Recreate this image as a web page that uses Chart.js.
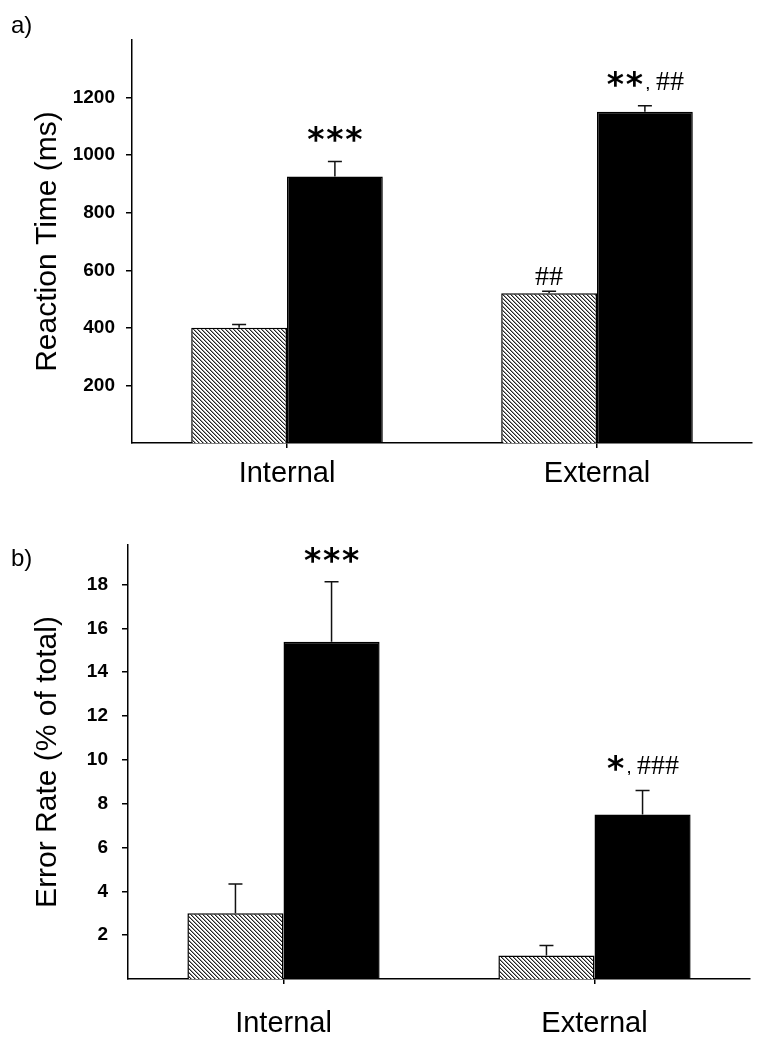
<!DOCTYPE html>
<html>
<head>
<meta charset="utf-8">
<script src="https://cdn.jsdelivr.net/npm/chart.js@4"></script>
<style>
  body { margin: 0; background: #fff; }
  #wrap { position: relative; width: 760px; height: 1050px; }
  canvas { position: absolute; left: 0; }
  .panel { position: absolute; left: 11px; font: 24px 'Liberation Sans', Arial, sans-serif; line-height: 1; color: #000; }
</style>
</head>
<body>
<div id="wrap">
  <canvas id="reactiontime" width="760" height="500" style="top:0"></canvas>
  <canvas id="errorrate" width="760" height="550" style="top:500px"></canvas>
  <div class="panel" style="top:13px">a)</div>
  <div class="panel" style="top:546px">b)</div>
</div>
<script>
// Datos
var categories = ['Internal', 'External'];

var rtHatched = [400, 520];
var rtHatchedErr = [12, 7];
var rtSolid = [926, 1151];
var rtSolidErr = [52, 21];
var rtTicks = [200, 400, 600, 800, 1000, 1200];
var rtMarksHatched = ['', '##'];
var rtMarksSolid = ['***', '**, ##'];

var erHatched = [3.0, 1.07];
var erHatchedErr = [1.33, 0.46];
var erSolid = [15.39, 7.5];
var erSolidErr = [2.73, 1.1];
var erTicks = [2, 4, 6, 8, 10, 12, 14, 16, 18];
var erMarksHatched = ['', ''];
var erMarksSolid = ['***', '*, ###'];

var fontFamily = "'Liberation Sans', Arial, sans-serif";

// rayado diagonal para las barras grises
function hatchPattern() {
    var c = document.createElement('canvas');
    c.width = 4;
    c.height = 4;
    var g = c.getContext('2d');
    g.fillStyle = '#fff';
    g.fillRect(0, 0, 4, 4);
    for (var i = 0; i < 4; i++) {
        g.fillStyle = '#222';
        g.fillRect(i, i, 1, 1);
        g.fillStyle = '#999';
        g.fillRect((i + 1) % 4, i, 1, 1);
    }
    return g.createPattern(c, 'repeat');
}

// barras de error (solo hacia arriba) y marcas de significancia
var errorBars = {
    id: 'errorBars',
    afterDatasetsDraw: function(chart) {
        var ctx = chart.ctx;
        var yScale = chart.scales.y;
        ctx.save();
        chart.data.datasets.forEach(function(ds, i) {
            var meta = chart.getDatasetMeta(i);
            meta.data.forEach(function(bar, j) {
                var top = yScale.getPixelForValue(ds.data[j] + ds.errors[j]);
                ctx.strokeStyle = '#111';
                ctx.lineWidth = 1.5;
                ctx.beginPath();
                ctx.moveTo(bar.x, bar.y);
                ctx.lineTo(bar.x, top);
                ctx.moveTo(bar.x - 7, top);
                ctx.lineTo(bar.x + 7, top);
                ctx.stroke();
                var mark = ds.marks[j];
                if (mark) {
                    var gap = mark.indexOf('*') >= 0 ? 27 : 17;
                    drawMark(ctx, mark, bar.x, top - gap);
                }
            });
        });
        ctx.restore();
    }
};

function drawMark(ctx, text, cx, cy) {
    var pitch = { '*': 19, ',': 8, '#': 14, ' ': 4 };
    var width = 0;
    for (var k = 0; k < text.length; k++) width += pitch[text[k]];
    var x = cx - width / 2;
    ctx.fillStyle = '#000';
    ctx.textAlign = 'center';
    ctx.textBaseline = 'alphabetic';
    for (var k = 0; k < text.length; k++) {
        var ch = text[k];
        var mid = x + pitch[ch] / 2;
        if (ch === '*') {
            ctx.font = "bold 33px 'DejaVu Sans'";
            var m = ctx.measureText('*');
            ctx.fillText('*', mid, cy + (m.actualBoundingBoxAscent - m.actualBoundingBoxDescent) / 2);
        } else if (ch === ',') {
            ctx.font = 'bold 13px ' + fontFamily;
            ctx.fillText(',', mid, cy + 10);
        } else if (ch === '#') {
            ctx.font = "28px 'Liberation Serif'";
            var m2 = ctx.measureText('#');
            ctx.fillText('#', mid, cy + 2 + (m2.actualBoundingBoxAscent - m2.actualBoundingBoxDescent) / 2);
        }
        x += pitch[ch];
    }
}

function makeChart(id, opts) {
    var ctx = document.getElementById(id).getContext('2d');
    var datos = {
        labels: categories,
        datasets: [
            {
                data: opts.hatched,
                errors: opts.hatchedErr,
                marks: opts.marksHatched,
                backgroundColor: hatchPattern(),
                borderColor: '#000',
                borderWidth: 1.5,
                categoryPercentage: 0.618,
                barPercentage: 1
            },
            {
                data: opts.solid,
                errors: opts.solidErr,
                marks: opts.marksSolid,
                backgroundColor: '#000',
                borderColor: '#000',
                borderWidth: 1.5,
                categoryPercentage: 0.618,
                barPercentage: 1
            }
        ]
    };

    var config = {
        type: 'bar',
        data: datos,
        options: {
            responsive: false,
            animation: false,
            layout: { padding: { top: opts.padTop, left: 26, right: opts.padRight, bottom: 0 } },
            plugins: { legend: { display: false }, tooltip: { enabled: false } },
            scales: {
                x: {
                    grid: { drawOnChartArea: false, offset: false, tickLength: 5, color: '#000', lineWidth: 1.5 },
                    border: { display: true, color: '#000', width: 1.5 },
                    ticks: { color: '#000', padding: opts.xPad, font: { family: fontFamily, size: 29 } },
                    afterFit: function(s) { s.height = opts.xHeight; }
                },
                y: {
                    min: 0,
                    max: opts.max,
                    afterBuildTicks: function(s) {
                        s.ticks = opts.ticks.map(function(v) { return { value: v }; });
                    },
                    grid: { drawOnChartArea: false, tickLength: 6, color: '#000', lineWidth: 1.5 },
                    border: { display: true, color: '#000', width: 1.5 },
                    ticks: {
                        color: '#000',
                        padding: opts.yPad,
                        font: { family: fontFamily, size: 19, weight: 'bold' },
                        callback: function(v) { return String(v); }
                    },
                    title: { display: true, text: opts.title, color: '#000', padding: 4, font: { family: fontFamily, size: 30 } },
                    afterFit: function(s) { s.width = opts.yWidth; }
                }
            }
        },
        plugins: [errorBars]
    };
    return new Chart(ctx, config);
}

document.addEventListener('DOMContentLoaded', function() {
    makeChart('reactiontime', {
        hatched: rtHatched, hatchedErr: rtHatchedErr, marksHatched: rtMarksHatched,
        solid: rtSolid, solidErr: rtSolidErr, marksSolid: rtMarksSolid,
        ticks: rtTicks, max: 1400, title: 'Reaction Time (ms)',
        padTop: 40, padRight: 8, xHeight: 57, xPad: 9, yWidth: 106, yPad: 11
    });
    makeChart('errorrate', {
        hatched: erHatched, hatchedErr: erHatchedErr, marksHatched: erMarksHatched,
        solid: erSolid, solidErr: erSolidErr, marksSolid: erMarksSolid,
        ticks: erTicks, max: 19.8, title: 'Error Rate (% of total)',
        padTop: 45, padRight: 10, xHeight: 71, xPad: 23, yWidth: 102, yPad: 14
    });
});
</script>
</body>
</html>
